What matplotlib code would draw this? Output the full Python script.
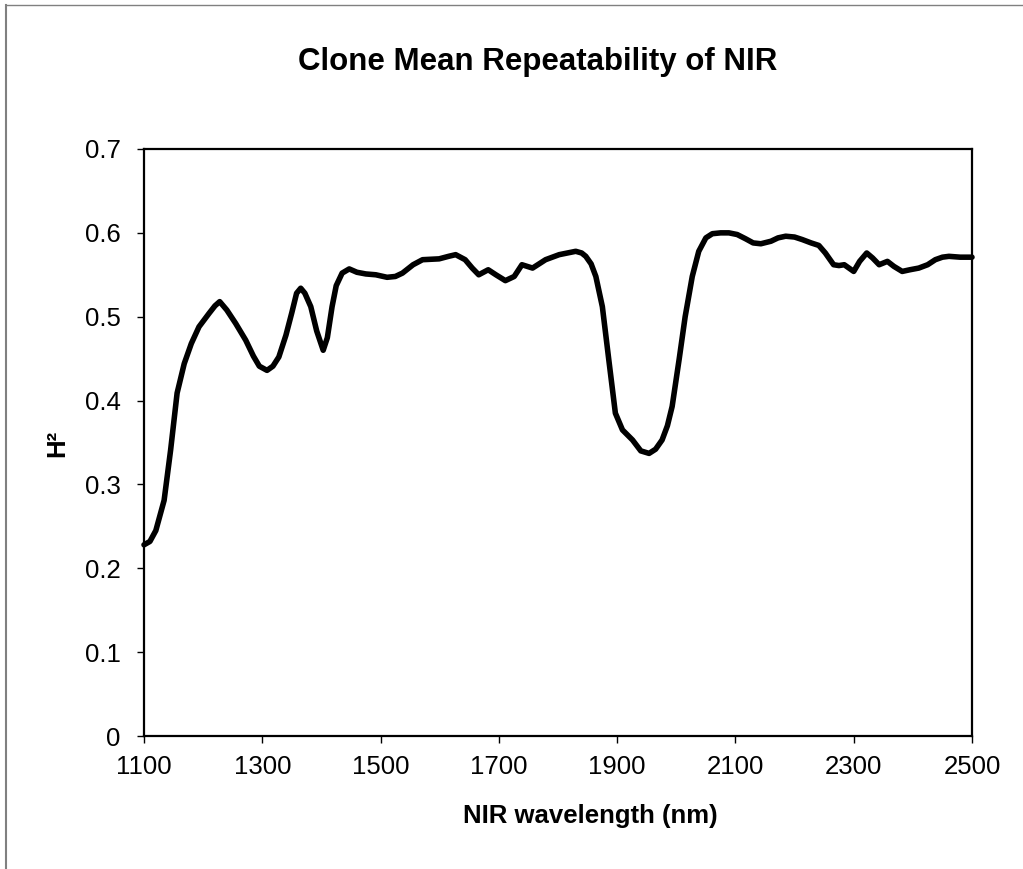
import matplotlib
matplotlib.use("Agg")
import matplotlib.pyplot as plt
from matplotlib.lines import Line2D

plt.rcParams["font.family"] = ["Liberation Sans", "DejaVu Sans"]

# values
wavelength = [1100, 1110, 1120, 1134, 1145, 1156, 1168, 1180, 1193, 1210,
              1220, 1228, 1240, 1255, 1272, 1285, 1295, 1308, 1318, 1328,
              1340, 1350, 1358, 1365, 1372, 1382, 1392, 1403, 1410, 1418,
              1425, 1435, 1447, 1460, 1475, 1492, 1511, 1525, 1537, 1555,
              1571, 1599, 1615, 1627, 1643, 1655, 1666, 1682, 1695, 1711,
              1726, 1739, 1757, 1779, 1802, 1830, 1840, 1847, 1856, 1864,
              1875, 1886, 1897, 1909, 1926, 1940, 1954, 1965, 1976, 1985,
              1993, 2005, 2015, 2027, 2038, 2050, 2061, 2075, 2089, 2103,
              2117, 2130, 2143, 2160, 2172, 2185, 2200, 2213, 2228, 2241,
              2252, 2266, 2275, 2284, 2292, 2300, 2310, 2322, 2332, 2343,
              2357, 2368, 2382, 2395, 2410, 2425, 2438, 2450, 2461, 2480,
              2500]
h2 = [0.228, 0.232, 0.245, 0.281, 0.341, 0.409, 0.444, 0.468, 0.488, 0.504,
      0.513, 0.518, 0.508, 0.492, 0.472, 0.453, 0.441, 0.436, 0.441, 0.452,
      0.478, 0.505, 0.528, 0.534, 0.528, 0.512, 0.483, 0.460, 0.475, 0.512,
      0.537, 0.552, 0.557, 0.553, 0.551, 0.550, 0.547, 0.548, 0.552, 0.562,
      0.568, 0.569, 0.572, 0.574, 0.568, 0.558, 0.550, 0.556, 0.550, 0.543,
      0.548, 0.562, 0.558, 0.568, 0.574, 0.578, 0.576, 0.572, 0.563, 0.548,
      0.512, 0.448, 0.385, 0.365, 0.353, 0.340, 0.337, 0.342, 0.353, 0.370,
      0.393, 0.450, 0.500, 0.548, 0.578, 0.594, 0.599, 0.600, 0.600, 0.598,
      0.593, 0.588, 0.587, 0.590, 0.594, 0.596, 0.595, 0.592, 0.588, 0.585,
      0.576, 0.562, 0.561, 0.562, 0.558, 0.554, 0.566, 0.576, 0.570, 0.562,
      0.566, 0.560, 0.554, 0.556, 0.558, 0.562, 0.568, 0.571, 0.572, 0.571,
      0.571]

x_ticks = [1100, 1300, 1500, 1700, 1900, 2100, 2300, 2500]
y_ticks = [0, 0.1, 0.2, 0.3, 0.4, 0.5, 0.6, 0.7]
y_tick_labels = ["0", "0.1", "0.2", "0.3", "0.4", "0.5", "0.6", "0.7"]

W, H = 1023, 869
fig = plt.figure(figsize=(W / 100, H / 100), dpi=100)
ax = fig.add_axes([144 / W, 1 - 736 / H, (972 - 144) / W, (736 - 149) / H])

ax.plot(wavelength, h2, color="black", linewidth=4,
        solid_joinstyle="round", solid_capstyle="round", clip_on=False)

ax.set_xlim(1100, 2500)
ax.set_ylim(0, 0.7)
ax.set_xticks(x_ticks)
ax.set_yticks(y_ticks)
ax.set_yticklabels(y_tick_labels)
ax.tick_params(direction="out", length=5, width=1, labelsize=18.5)
ax.tick_params(axis="x", pad=9)
ax.tick_params(axis="y", pad=12)

for spine in ax.spines.values():
    spine.set_linewidth(1.6)

fig.text(538 / W, 1 - 62 / H, "Clone Mean Repeatability of NIR",
         fontsize=22.5, fontweight="bold", ha="center", va="center")
fig.text(590 / W, 1 - 816 / H, "NIR wavelength (nm)",
         fontsize=18.5, fontweight="bold", ha="center", va="center")
fig.text(57 / W, 1 - 443 / H, "H²", fontsize=18.5, fontweight="bold",
         rotation=90, ha="center", va="center")

# gray chart-area border (left and top edges visible)
fig.add_artist(Line2D([5.5 / W, 5.5 / W], [0.0, 1 - 5 / H],
                      transform=fig.transFigure, color="#808080", linewidth=1.5))
fig.add_artist(Line2D([5.5 / W, 1.0], [1 - 5 / H, 1 - 5 / H],
                      transform=fig.transFigure, color="#808080", linewidth=1.0))

fig.savefig("out.png", dpi=100)
